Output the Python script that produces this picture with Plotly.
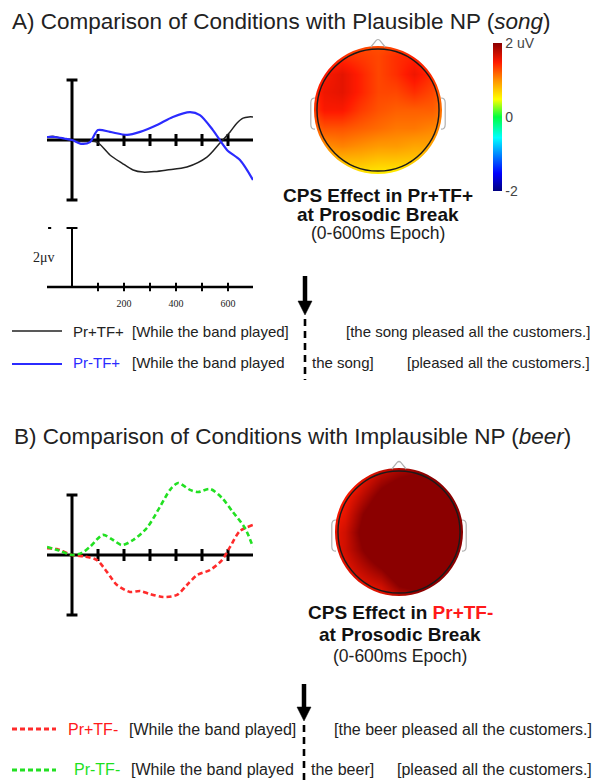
import plotly.graph_objects as go

W, H = 596, 781

# ---------------- Data ----------------
# Panel A ERPs (time in ms, amplitude in microvolts)
t_pr_tf_plus = [-96, -70, -40, 0, 40, 96, 146, 192, 235, 273, 319, 365, 442, 519, 569, 608, 633, 658, 680, 696]
v_pr_tf_plus = [0.10, 0.12, 0.05, 0.0, -0.05, -0.07, -0.50, -0.77, -1.00, -1.07, -1.05, -1.00, -0.90, -0.57, -0.10, 0.27, 0.55, 0.73, 0.77, 0.77]

t_prm_tf_plus = [-96, -65, -30, 0, 38, 69, 100, 146, 212, 262, 327, 388, 454, 492, 542, 596, 646, 696]
v_prm_tf_plus = [0.10, 0.10, 0.05, 0.0, -0.13, -0.07, 0.33, 0.27, 0.17, 0.27, 0.50, 0.77, 0.93, 0.83, 0.33, -0.33, -0.67, -1.33]

# Panel B ERPs
t_pr_tf_minus = [-96, -58, 0, 50, 96, 135, 173, 223, 262, 300, 350, 404, 442, 481, 531, 577, 608, 646, 696]
v_pr_tf_minus = [0.23, 0.20, 0.0, -0.05, -0.17, -0.57, -1.00, -1.23, -1.20, -1.30, -1.40, -1.33, -1.00, -0.67, -0.50, -0.17, 0.27, 0.80, 1.00]

t_prm_tf_minus = [-96, -50, 0, 38, 69, 119, 158, 192, 235, 288, 338, 377, 408, 454, 485, 531, 577, 619, 665, 696]
v_prm_tf_minus = [0.27, 0.15, 0.0, 0.07, 0.27, 0.67, 0.50, 0.33, 0.50, 0.90, 1.60, 2.17, 2.40, 2.17, 2.10, 2.20, 1.90, 1.43, 0.90, 0.27]

erp_ticks_ms = [100, 200, 300, 400, 500, 600]
scale_tick_vals = [200, 400, 600]
scale_tick_text = ["200", "400", "600"]

# Topographic maps (grid positions, rows listed top -> bottom), values in microvolts
head_grid_pos = [-1.2, -0.9, -0.6, -0.3, 0.0, 0.3, 0.6, 0.9, 1.2]
head_A_rows = [
    [1.05, 1.10, 1.20, 1.25, 1.25, 1.25, 1.25, 1.15, 1.05],
    [1.15, 1.30, 1.40, 1.35, 1.30, 1.40, 1.45, 1.30, 1.10],
    [1.25, 1.50, 1.60, 1.45, 1.30, 1.40, 1.55, 1.40, 1.15],
    [1.30, 1.55, 1.60, 1.45, 1.30, 1.30, 1.40, 1.30, 1.10],
    [1.25, 1.50, 1.50, 1.35, 1.25, 1.20, 1.20, 1.20, 1.05],
    [1.10, 1.25, 1.25, 1.20, 1.15, 1.10, 1.10, 1.05, 1.00],
    [0.90, 1.00, 1.05, 1.00, 0.95, 0.95, 0.90, 0.90, 0.85],
    [0.65, 0.75, 0.75, 0.75, 0.70, 0.70, 0.70, 0.70, 0.65],
    [0.35, 0.40, 0.45, 0.45, 0.45, 0.40, 0.40, 0.40, 0.35],
]
head_B_rows = [
    [0.80, 0.90, 1.30, 1.60, 1.70, 1.70, 1.70, 1.70, 1.60],
    [0.95, 1.25, 1.60, 1.85, 2.00, 2.10, 2.10, 2.00, 1.80],
    [1.30, 1.50, 1.80, 2.10, 2.30, 2.30, 2.30, 2.20, 1.90],
    [1.40, 1.60, 2.00, 2.30, 2.40, 2.40, 2.40, 2.30, 2.00],
    [1.50, 1.70, 2.10, 2.40, 2.40, 2.40, 2.40, 2.30, 2.00],
    [1.50, 1.70, 2.00, 2.30, 2.40, 2.40, 2.40, 2.30, 2.00],
    [1.50, 1.60, 1.80, 2.00, 2.30, 2.30, 2.30, 2.20, 1.90],
    [1.40, 1.50, 1.60, 1.70, 2.00, 2.10, 2.10, 2.00, 1.80],
    [1.30, 1.40, 1.50, 1.50, 1.60, 1.70, 1.70, 1.70, 1.60],
]
cbar_tickvals = [-2, 0, 2]
cbar_ticktext = ["-2", "0", "2 uV"]

# ---------------- Helpers ----------------
def X(px):
    return px / W

def Y(py):
    return 1 - py / H

SANS = "Liberation Sans, Arial, Helvetica, sans-serif"
SERIF = "Liberation Serif, Times New Roman, serif"

colorscale = [
    [0.00, "#00007f"], [0.12, "#0000ff"], [0.36, "#00ffff"], [0.50, "#00ff40"],
    [0.62, "#ffff00"], [0.75, "#ff9000"], [0.87, "#ff1a00"], [1.00, "#8b0000"],
]

fig = go.Figure()

# ERP traces
fig.add_trace(go.Scatter(x=t_pr_tf_plus, y=v_pr_tf_plus, mode="lines", name="Pr+TF+",
                         line=dict(color="#222222", width=1.5, shape="spline", smoothing=0.8),
                         xaxis="x", yaxis="y", hoverinfo="skip"))
fig.add_trace(go.Scatter(x=t_prm_tf_plus, y=v_prm_tf_plus, mode="lines", name="Pr-TF+",
                         line=dict(color="#2b2bff", width=2.2, shape="spline", smoothing=0.8),
                         xaxis="x", yaxis="y", hoverinfo="skip"))
fig.add_trace(go.Scatter(x=t_pr_tf_minus, y=v_pr_tf_minus, mode="lines", name="Pr+TF-",
                         line=dict(color="#ff2b2b", width=2.6, dash="5px,3px", shape="spline", smoothing=0.8),
                         xaxis="x3", yaxis="y3", hoverinfo="skip"))
fig.add_trace(go.Scatter(x=t_prm_tf_minus, y=v_prm_tf_minus, mode="lines", name="Pr-TF-",
                         line=dict(color="#22e022", width=2.6, dash="5px,3px", shape="spline", smoothing=0.8),
                         xaxis="x3", yaxis="y3", hoverinfo="skip"))
# empty trace to create the scale-bar subplot
fig.add_trace(go.Scatter(x=[], y=[], xaxis="x2", yaxis="y2", showlegend=False, hoverinfo="skip"))

# Topographic maps
fig.add_trace(go.Heatmap(x=head_grid_pos, y=head_grid_pos, z=head_A_rows[::-1],
                         zmin=-2, zmax=2, zsmooth="best", colorscale=colorscale,
                         xaxis="x4", yaxis="y4", hoverinfo="skip",
                         colorbar=dict(x=X(493), xanchor="left", y=Y(43), yanchor="top",
                                       len=148 / H, lenmode="fraction", thickness=9,
                                       thicknessmode="pixels", xpad=0, ypad=0, outlinewidth=0,
                                       tickvals=cbar_tickvals, ticktext=cbar_ticktext, ticks="",
                                       tickfont=dict(family=SANS, size=14, color="#444444"))))
fig.add_trace(go.Heatmap(x=head_grid_pos, y=head_grid_pos, z=head_B_rows[::-1],
                         zmin=-2, zmax=2, zsmooth="best", colorscale=colorscale, showscale=False,
                         xaxis="x5", yaxis="y5", hoverinfo="skip"))

XR = [-96.15, 696.15]
hidden = dict(visible=False, fixedrange=True)
fig.update_layout(
    width=W, height=H, margin=dict(l=0, r=0, t=0, b=0),
    paper_bgcolor="white", plot_bgcolor="rgba(0,0,0,0)", showlegend=False,
    xaxis=dict(domain=[X(47), X(253)], range=XR, anchor="y", **hidden),
    yaxis=dict(domain=[Y(215), Y(65)], range=[-2.5, 2.5], anchor="x", **hidden),
    xaxis2=dict(domain=[X(47), X(253)], range=XR, anchor="y2", visible=True, showgrid=False,
                zeroline=False, showline=False, ticks="",
                tickvals=scale_tick_vals, ticktext=scale_tick_text,
                tickfont=dict(family=SERIF, size=10, color="#222222"), fixedrange=True),
    yaxis2=dict(domain=[Y(296), Y(220)], range=[-9 / 29.5, 67 / 29.5], anchor="x2", **hidden),
    xaxis3=dict(domain=[X(47), X(253)], range=XR, anchor="y3", **hidden),
    yaxis3=dict(domain=[Y(640), Y(470)], range=[-85 / 30, 85 / 30], anchor="x3", **hidden),
    xaxis4=dict(domain=[X(306), X(450)], range=[-1.2, 1.2], anchor="y4", **hidden),
    yaxis4=dict(domain=[Y(182), Y(38)], range=[-1.2, 1.2], anchor="x4", **hidden),
    xaxis5=dict(domain=[X(327), X(471)], range=[-1.2, 1.2], anchor="y5", **hidden),
    yaxis5=dict(domain=[Y(604), Y(460)], range=[-1.2, 1.2], anchor="x5", **hidden),
)

shapes = []

def line(xref, yref, x0, y0, x1, y1, color="black", width=3, dash=None, layer="below"):
    d = dict(type="line", xref=xref, yref=yref, x0=x0, y0=y0, x1=x1, y1=y1,
             line=dict(color=color, width=width), layer=layer)
    if dash:
        d["line"]["dash"] = dash
    shapes.append(d)

# ERP axes (A and B)
for xr, yr in (("x", "y"), ("x3", "y3")):
    line(xr, yr, XR[0], 0, XR[1], 0, width=3)
    line(xr, yr, 0, -2, 0, 2, width=3)
    line(xr, yr, -21, 2, 21, 2, width=3)
    line(xr, yr, -21, -2, 21, -2, width=3)
    for t in erp_ticks_ms:
        line(xr, yr, t, -0.2, t, 0.2, width=3)

# Scale bar panel
line("x2", "y2", XR[0], 0, XR[1], 0, width=2.5)
line("x2", "y2", 0, 0, 0, 2, width=2)
line("x2", "y2", -21, 2, 21, 2, width=2)
line("x2", "y2", -92, 2, -80, 2, width=2)
for t in erp_ticks_ms:
    line("x2", "y2", t, -0.14, t, 0.14, width=2)

# Heads
def circle_path(r):
    k = 0.5523 * r
    return (f"M {r} 0 C {r} {k} {k} {r} 0 {r} C {-k} {r} {-r} {k} {-r} 0 "
            f"C {-r} {-k} {-k} {-r} 0 {-r} C {k} {-r} {r} {-k} {r} 0 Z")

for xr, yr in (("x4", "y4"), ("x5", "y5")):
    shapes.append(dict(type="path", xref=xr, yref=yr, layer="above",
                       path="M -2 -2 L 2 -2 L 2 2 L -2 2 Z " + circle_path(1.067),
                       fillcolor="white", fillrule="evenodd", line=dict(width=0)))
    shapes.append(dict(type="path", xref=xr, yref=yr, layer="above",
                       path="M -0.12 1.05 L -0.03 1.16 Q 0 1.19 0.03 1.16 L 0.12 1.05",
                       line=dict(color="#b0b0b0", width=1.2)))
    shapes.append(dict(type="path", xref=xr, yref=yr, layer="above",
                       path="M -1.05 0.2 Q -1.12 0.2 -1.12 0.12 L -1.12 -0.24 Q -1.12 -0.32 -1.05 -0.32",
                       line=dict(color="#b0b0b0", width=1.2)))
    shapes.append(dict(type="path", xref=xr, yref=yr, layer="above",
                       path="M 1.05 0.2 Q 1.12 0.2 1.12 0.12 L 1.12 -0.24 Q 1.12 -0.32 1.05 -0.32",
                       line=dict(color="#b0b0b0", width=1.2)))
    shapes.append(dict(type="circle", xref=xr, yref=yr, layer="above",
                       x0=-1.017, y0=-1.017, x1=1.017, y1=1.017,
                       line=dict(color="#1a1a1a", width=1.4)))

# Arrows and dashed break lines (paper coordinates)
def arrow(xc, ytop, ybot):
    line("paper", "paper", X(xc), Y(ytop), X(xc), Y(ybot - 12), width=4.5, layer="above")
    shapes.append(dict(type="path", xref="paper", yref="paper", layer="above",
                       path=f"M {X(xc-7)} {Y(ybot-14)} L {X(xc+7)} {Y(ybot-14)} L {X(xc)} {Y(ybot)} Z",
                       fillcolor="black", line=dict(color="black", width=0.5)))

arrow(305, 276, 315)
line("paper", "paper", X(305), Y(319), X(305), Y(380), width=2.6, dash="7px,5px", layer="above")
arrow(304, 684, 721)
line("paper", "paper", X(304), Y(725), X(304), Y(781), width=2.6, dash="7px,5px", layer="above")

# Legend samples
line("paper", "paper", X(12), Y(331), X(62), Y(331), color="#222222", width=1.6, layer="above")
line("paper", "paper", X(12), Y(364), X(62), Y(364), color="#2b2bff", width=2, layer="above")
line("paper", "paper", X(12), Y(729), X(56), Y(729), color="#ff2b2b", width=3, dash="5px,3px", layer="above")
line("paper", "paper", X(12), Y(770), X(56), Y(770), color="#22e022", width=3, dash="5px,3px", layer="above")

fig.update_layout(shapes=shapes)

ann = []

def text(s, x, y, size, color="#222222", xanchor="left", family=SANS):
    ann.append(dict(text=s, x=X(x), y=Y(y), xref="paper", yref="paper", showarrow=False,
                    xanchor=xanchor, yanchor="middle", font=dict(family=family, size=size, color=color)))

# Titles
text("A) Comparison of Conditions with Plausible NP (<i>song</i>)", 10, 21, 22.5)
text("B) Comparison of Conditions with Implausible NP (<i>beer</i>)", 12, 436, 22.5)

# Scale label
text("2μv", 44, 257, 14, xanchor="center", family=SERIF)

# Head captions
text("<b>CPS Effect in Pr+TF+</b>", 378, 195, 19, color="#111111", xanchor="center")
text("<b>at Prosodic Break</b>", 378, 214, 19, color="#111111", xanchor="center")
text("(0-600ms Epoch)", 378, 233, 17.5, color="#222222", xanchor="center")
text("<b>CPS Effect in <span style='color:#ff1a1a'>Pr+TF-</span></b>", 400, 612, 19, color="#111111", xanchor="center")
text("<b>at Prosodic Break</b>", 400, 634, 19, color="#111111", xanchor="center")
text("(0-600ms Epoch)", 400, 656, 17.5, color="#222222", xanchor="center")

# Legend A
text("Pr+TF+", 71, 332, 15, color="#222222")
text("[While the band played]", 130, 332, 15, color="#222222")
text("[the song pleased all the customers.]", 592, 332, 15, color="#222222", xanchor="right")
text("Pr-TF+", 71, 362, 15, color="#2b2bff")
text("[While the band played", 130, 362, 15, color="#222222")
text("the song]", 310, 362, 15, color="#222222")
text("[pleased all the customers.]", 592, 362, 15, color="#222222", xanchor="right")

# Legend B
text("Pr+TF-", 66, 729, 16, color="#ff1a1a")
text("[While the band played]", 127, 729, 16, color="#222222")
text("[the beer pleased all the customers.]", 594, 729, 16, color="#222222", xanchor="right")
text("Pr-TF-", 72, 769, 16, color="#1ee01e")
text("[While the band played", 129, 769, 16, color="#222222")
text("the beer]", 309, 769, 16, color="#222222")
text("[pleased all the customers.]", 594, 769, 16, color="#222222", xanchor="right")

fig.update_layout(annotations=ann)

fig.write_html("out.html", config={"displayModeBar": False},
               post_script="document.body.style.margin='0px';")
